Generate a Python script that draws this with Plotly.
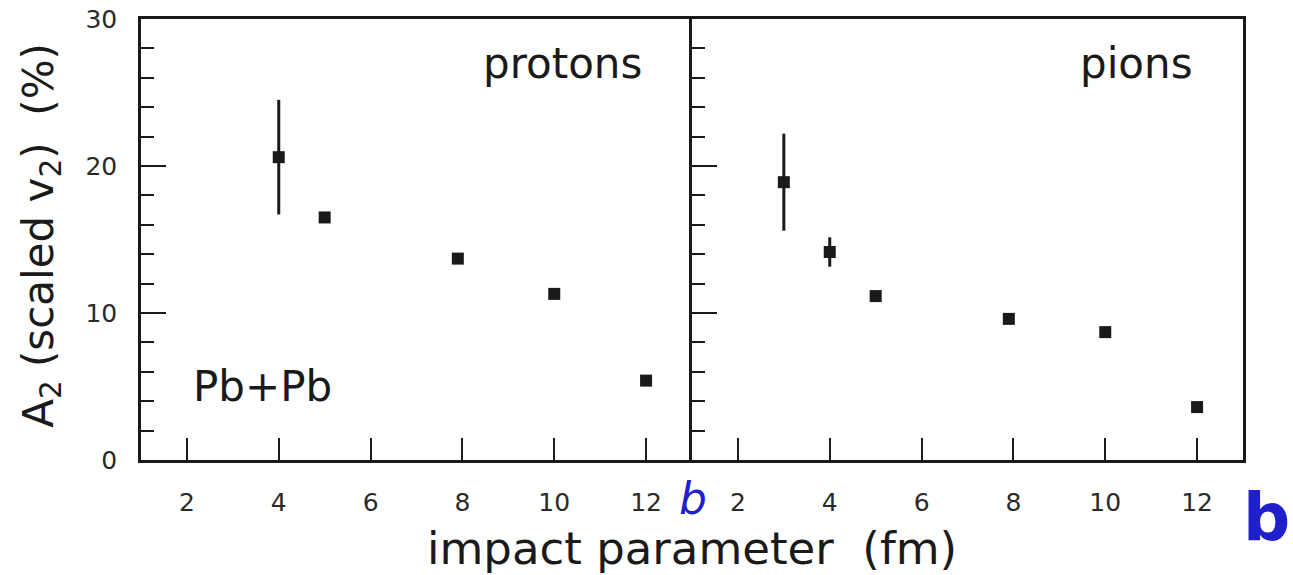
import plotly.graph_objects as go
from plotly.subplots import make_subplots

# ---- data ----
b_protons = [4, 5, 7.9, 10, 12]
a2_protons = [20.6, 16.5, 13.7, 11.3, 5.4]
err_protons = [3.9, 0, 0, 0, 0]

b_pions = [3, 4, 5, 7.9, 10, 12]
a2_pions = [18.9, 14.15, 11.15, 9.6, 8.7, 3.6]
err_pions = [3.3, 1.0, 0, 0, 0, 0]

x_ticks = [2, 4, 6, 8, 10, 12]
y_ticks = [0, 10, 20, 30]

FONT = "DejaVu Sans"
INK = "#1a1a1a"
BLUE = "#1f1fcc"

fig = make_subplots(rows=1, cols=2, shared_yaxes=True, horizontal_spacing=0)

for col, (xs, ys, es) in enumerate([(b_protons, a2_protons, err_protons),
                                    (b_pions, a2_pions, err_pions)], start=1):
    fig.add_trace(go.Scatter(
        x=xs, y=ys, mode="markers",
        marker=dict(symbol="square", size=12, color=INK),
        error_y=dict(type="data", array=es, visible=True, thickness=3,
                     width=0, color=INK),
        showlegend=False, hoverinfo="skip"), row=1, col=col)

axis_common = dict(showline=True, linecolor=INK, linewidth=2.5,
                   showgrid=False, zeroline=False, ticks="inside",
                   tickcolor=INK, tickwidth=2, automargin=False,
                   tickfont=dict(family=FONT, size=25, color="#2a2a2a"))

for col in (1, 2):
    fig.update_xaxes(range=[1, 13], tickvals=x_ticks, ticklen=22,
                     ticklabelstandoff=18, mirror=True,
                     row=1, col=col, **axis_common)
    fig.update_yaxes(range=[0, 30], tickvals=y_ticks, ticklen=25,
                     ticklabelstandoff=16, mirror=(col == 2),
                     minor=dict(dtick=2, ticklen=13, ticks="inside",
                                tickcolor=INK, tickwidth=2, showgrid=False),
                     row=1, col=col, **axis_common)
fig.update_yaxes(showticklabels=False, row=1, col=2)

ann = []
ann.append(dict(text="protons", x=11.95, y=27.0, xref="x", yref="y",
                xanchor="right", yanchor="middle", showarrow=False,
                font=dict(family=FONT, size=42, color=INK)))
ann.append(dict(text="pions", x=11.95, y=27.0, xref="x2", yref="y2",
                xanchor="right", yanchor="middle", showarrow=False,
                font=dict(family=FONT, size=42, color=INK)))
ann.append(dict(text="Pb+Pb", x=2.08, y=5.0, xref="x", yref="y",
                xanchor="left", yanchor="middle", showarrow=False,
                font=dict(family=FONT, size=42, color=INK)))
ann.append(dict(text="impact parameter  (fm)", x=0.5, y=-0.2,
                xref="paper", yref="paper", xanchor="center",
                yanchor="middle", showarrow=False,
                font=dict(family=FONT, size=45, color=INK)))
ann.append(dict(text="A<sub>2</sub> (scaled v<sub>2</sub>)  (%)",
                x=-0.091, y=0.51, xref="paper", yref="paper",
                xanchor="center", yanchor="middle", textangle=-90,
                showarrow=False,
                font=dict(family=FONT, size=42, color=INK)))
ann.append(dict(text="<i>b</i>", x=0.501, y=-0.088, xref="paper",
                yref="paper", xanchor="center", yanchor="middle",
                showarrow=False,
                font=dict(family=FONT, size=44, color=BLUE)))
ann.append(dict(text="<b>b</b>", x=1.021, y=-0.13, xref="paper",
                yref="paper", xanchor="center", yanchor="middle",
                showarrow=False,
                font=dict(family=FONT, size=66, color=BLUE)))

fig.update_layout(width=1293, height=575,
                  margin=dict(l=141, r=50, t=19, b=115),
                  paper_bgcolor="white", plot_bgcolor="white",
                  annotations=ann)

# remove the default page margin so the figure sits at the window's corner
fig.write_html("out.html", config={"displayModeBar": False},
               post_script="document.body.style.margin='0';")
